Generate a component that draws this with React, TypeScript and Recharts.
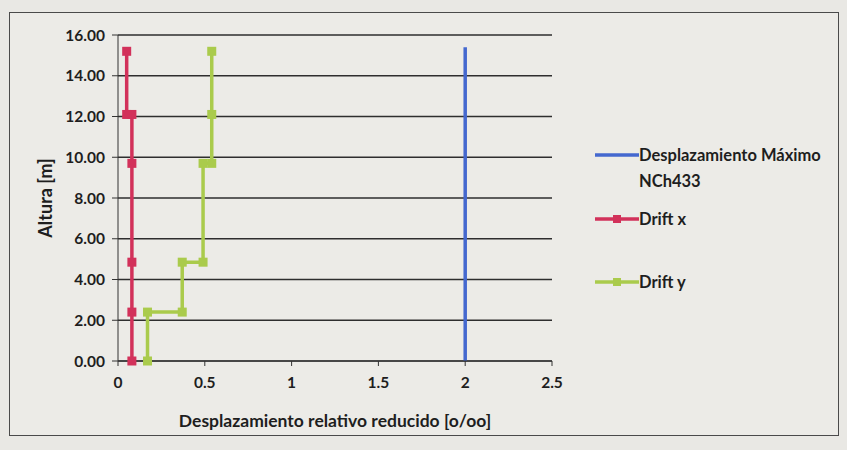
import React from 'react';
import {
  LineChart,
  Line,
  XAxis,
  YAxis,
  CartesianGrid,
  Label,
} from 'recharts';

// drift profiles: x = reduced relative displacement [o/oo], y = height [m]
const driftXValues = [0.08, 0.08, 0.08, 0.08, 0.08, 0.05, 0.05];
const driftXHeights = [0, 2.4, 4.85, 9.7, 12.1, 12.1, 15.2];

const driftYValues = [0.17, 0.17, 0.37, 0.37, 0.49, 0.49, 0.54, 0.54, 0.54];
const driftYHeights = [0, 2.4, 2.4, 4.85, 4.85, 9.7, 9.7, 12.1, 15.2];

// NCh433 limit
const limitValues = [2, 2];
const limitHeights = [0, 15.4];

const xTicks = [0, 0.5, 1, 1.5, 2, 2.5];
const yTicks = [0, 2, 4, 6, 8, 10, 12, 14, 16];

const SERIES = [
  { key: 'limit', name: 'Desplazamiento Máximo NCh433', color: '#4468cf' },
  { key: 'dx', name: 'Drift x', color: '#d2315a' },
  { key: 'dy', name: 'Drift y', color: '#aacb4c' },
];

const toPoints = (xs: number[], ys: number[]) => xs.map((x, i) => ({ x, y: ys[i] }));

const limitData = toPoints(limitValues, limitHeights);
const driftXData = toPoints(driftXValues, driftXHeights);
const driftYData = toPoints(driftYValues, driftYHeights);

const FONT = 'Lato, "Open Sans", sans-serif';
const TEXT = '#1e1e1e';

const SquareDot = (color: string) => (props: any) => {
  const { cx, cy, index } = props;
  if (cx == null || cy == null) return <g key={index} />;
  return <rect key={index} x={cx - 4.5} y={cy - 4.5} width={9} height={9} fill={color} />;
};

const LegendSwatch = ({ color, marker }: { color: string; marker: boolean }) => (
  <svg width={44} height={20} style={{ flex: 'none' }}>
    <line x1={0} y1={10} x2={44} y2={10} stroke={color} strokeWidth={3.5} />
    {marker && <rect x={18} y={6} width={8} height={8} fill={color} />}
  </svg>
);

// legend sits to the right of the plot, outside the recharts layout
const LegendBox = () => (
  <div
    style={{
      position: 'absolute',
      left: 595,
      top: 145,
      width: 250,
      fontFamily: FONT,
      fontWeight: 700,
      fontSize: 16.5,
      color: TEXT,
    }}
  >
    <div style={{ display: 'flex', alignItems: 'flex-start', height: 64 }}>
      <LegendSwatch color={SERIES[0].color} marker={false} />
      <div style={{ lineHeight: '26px', marginTop: -3 }}>
        Desplazamiento Máximo
        <br />
        NCh433
      </div>
    </div>
    <div style={{ display: 'flex', alignItems: 'flex-start', height: 63 }}>
      <LegendSwatch color={SERIES[1].color} marker />
      <span style={{ lineHeight: '20px' }}>{SERIES[1].name}</span>
    </div>
    <div style={{ display: 'flex', alignItems: 'flex-start', height: 20 }}>
      <LegendSwatch color={SERIES[2].color} marker />
      <span style={{ lineHeight: '20px' }}>{SERIES[2].name}</span>
    </div>
  </div>
);

export default function App() {
  return (
    <div
      style={{
        position: 'fixed',
        left: 0,
        top: 0,
        width: 847,
        height: 450,
        background: '#e9e8e4',
      }}
    >
      <div
        style={{
          position: 'absolute',
          left: 9,
          top: 12,
          width: 828,
          height: 422,
          border: '1.5px solid #4a4a4a',
          background: '#ecebe7',
        }}
      />
      <div style={{ position: 'absolute', left: 0, top: 0 }}>
        <LineChart
          width={847}
          height={450}
          margin={{ top: 35, right: 295, bottom: 9, left: 58 }}
        >
          <CartesianGrid horizontal vertical={false} stroke="#2e2e2e" strokeWidth={1.5} />
          <XAxis
            type="number"
            dataKey="x"
            domain={[0, 2.5]}
            ticks={xTicks}
            tickFormatter={(v: number) => String(v)}
            allowDuplicatedCategory={false}
            height={80}
            stroke="#333"
            tickSize={5}
            tick={{ fill: TEXT, fontSize: 15.5, fontFamily: FONT, fontWeight: 700 }}
            tickMargin={11}
          >
            <Label
              value="Desplazamiento relativo reducido [o/oo]"
              position="insideBottom"
              offset={14}
              style={{ fill: TEXT, fontSize: 17.5, fontFamily: FONT, fontWeight: 700 }}
            />
          </XAxis>
          <YAxis
            type="number"
            dataKey="y"
            domain={[0, 16]}
            ticks={yTicks}
            tickFormatter={(v: number) => v.toFixed(2)}
            width={60}
            stroke="#333"
            tickSize={6}
            tick={{ fill: TEXT, fontSize: 15.5, fontFamily: FONT, fontWeight: 700 }}
            tickMargin={7}
          >
            <Label
              value="Altura [m]"
              angle={-90}
              position="insideLeft"
              offset={-12}
              style={{ fill: TEXT, fontSize: 18, fontFamily: FONT, fontWeight: 700, textAnchor: 'middle' }}
            />
          </YAxis>
          <Line
            data={limitData}
            dataKey="y"
            name={SERIES[0].name}
            stroke={SERIES[0].color}
            strokeWidth={3.5}
            dot={false}
            isAnimationActive={false}
          />
          <Line
            data={driftXData}
            dataKey="y"
            name={SERIES[1].name}
            stroke={SERIES[1].color}
            strokeWidth={3.5}
            dot={SquareDot(SERIES[1].color)}
            isAnimationActive={false}
          />
          <Line
            data={driftYData}
            dataKey="y"
            name={SERIES[2].name}
            stroke={SERIES[2].color}
            strokeWidth={3.5}
            dot={SquareDot(SERIES[2].color)}
            isAnimationActive={false}
          />
        </LineChart>
      </div>
      <LegendBox />
    </div>
  );
}
